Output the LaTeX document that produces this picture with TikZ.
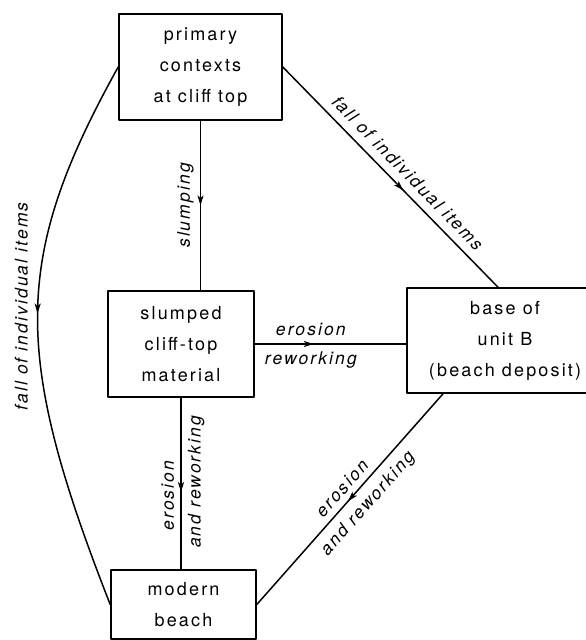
\documentclass[tikz,border=0pt]{standalone}
\usepackage{fontspec}
\setmainfont{TeX Gyre Heros}[LetterSpace=12.0]
\usetikzlibrary{arrows.meta,calc,decorations.markings}

\begin{document}
\begin{tikzpicture}[x=1pt,y=-1pt,line cap=round,line join=round,
  font=\fontsize{18}{31}\selectfont,
  box/.style={draw,line width=1.6pt,align=center,inner sep=0pt},
  lab/.style={font=\fontsize{17.5}{20}\selectfont\itshape,inner sep=6pt},
  flow/.style={line width=1.5pt,postaction={decorate},
    decoration={markings,mark=at position #1 with
      {\arrow{Stealth[length=10pt,width=6pt,inset=2.5pt]}}}},
  flow/.default=0.5]
\clip (0,0) rectangle (586,640);
\fill[white] (0,0) rectangle (586,640);

% the four contexts
\node[box,minimum width=163pt,minimum height=106pt] (top) at (200.5,67)
  {primary\\contexts\\at cliff top};
\node[box,minimum width=146pt,minimum height=106pt] (slump) at (181,344)
  {slumped\\cliff-top\\material};
\node[box,minimum width=196pt,minimum height=105pt] (base) at (505,340.5)
  {base of\\unit B\\(beach deposit)};
\node[box,minimum width=145pt,minimum height=69pt] (beach) at (183.5,604.5)
  {modern\\beach};

% paths between them
\draw[flow] (top.south) -- (top.south |- slump.north)
  node[lab,pos=.5,anchor=south,rotate=90] {slumping};
\draw[flow=.56] (top.east) -- ([xshift=-7pt]base.north)
  node[lab,pos=.53,sloped,above,inner sep=8pt] {fall of individual items};
\draw[flow=.39] (slump.east) -- (slump.east -| base.west)
  node[lab,pos=.37,above,inner sep=7pt] {erosion}
  node[lab,pos=.37,below,inner sep=7pt] {reworking};
\draw[flow=.55] (slump.south) -- (slump.south |- beach.north)
  node[lab,pos=.57,anchor=south,rotate=90] {erosion}
  node[lab,pos=.49,anchor=north,rotate=90] {and reworking};
\draw[flow=.51] ([xshift=-62pt]base.south) -- (beach.east)
  node[lab,pos=.49,sloped,above] {erosion}
  node[lab,pos=.47,sloped,below,inner sep=8pt] {and reworking};
\draw[flow=.465] (top.west) .. controls (12,258) and (12,354) .. (beach.west)
  node[lab,pos=.485,anchor=south,rotate=90,inner sep=9pt] {fall of individual items};
\end{tikzpicture}
\end{document}
